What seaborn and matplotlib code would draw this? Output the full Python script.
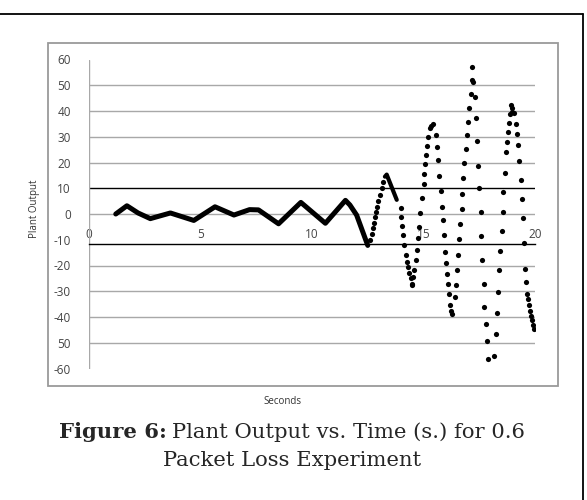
import seaborn as sns
import matplotlib.pyplot as plt
import pandas as pd
from matplotlib.lines import Line2D
from matplotlib.patches import Rectangle

# dense part of the response (drawn as a thick trace)
t_smooth = [1.2, 1.7, 2.2, 2.75, 3.65, 4.7, 5.65, 6.5, 7.2, 7.6, 8.5, 9.5, 10.6, 11.5, 11.7, 12.0, 12.5]
y_smooth = [0.0, 3.2, 0.4, -1.8, 0.4, -2.5, 2.8, -0.4, 1.7, 1.6, -3.8, 4.5, -3.6, 5.3, 3.5, -0.4, -12.2]

t_peak = [13.27, 13.35, 13.8]
y_peak = [14.5, 15.3, 5.5]

# sparse samples after packet loss gets worse
t_dots = [12.6, 12.68, 12.72, 12.78, 12.83, 12.87, 12.93, 12.97, 13.05, 13.12, 13.2,
          13.98, 13.99, 14.05, 14.1, 14.14, 14.2, 14.24, 14.32, 14.36, 14.42, 14.47, 14.5,
          14.54, 14.59, 14.65, 14.7, 14.77, 14.81, 14.86, 14.92, 15.0, 15.04, 15.07, 15.11,
          15.17, 15.22, 15.29, 15.35, 15.44,
          15.56, 15.62, 15.66, 15.71, 15.77, 15.82, 15.86, 15.92, 15.96, 16.0, 16.07, 16.11,
          16.16, 16.19, 16.24, 16.26,
          16.41, 16.46, 16.49, 16.53, 16.61, 16.64, 16.71, 16.74, 16.79, 16.83, 16.89, 16.93,
          17.01, 17.04, 17.11, 17.16, 17.19,
          17.23, 17.31, 17.34, 17.41, 17.43, 17.5, 17.56, 17.58, 17.64, 17.73, 17.73, 17.8,
          17.86, 17.88, 18.18,
          18.25, 18.31, 18.35, 18.4, 18.43, 18.51, 18.55, 18.58, 18.65, 18.7, 18.76, 18.8,
          18.83, 18.88, 18.92, 18.95, 18.98,
          19.06, 19.15, 19.2, 19.25, 19.3, 19.37, 19.41, 19.46, 19.52, 19.57, 19.61, 19.64,
          19.7, 19.73, 19.77, 19.81, 19.86, 19.9, 19.95]
y_dots = [-10.1, -7.8, -5.6, -3.4, -1.3, 0.9, 2.8, 5.2, 7.4, 10.0, 12.6,
          2.2, -1.3, -4.7, -8.2, -12.1, -16.0, -18.6, -20.7, -22.8, -25.0, -27.0, -27.5,
          -24.4, -21.8, -17.9, -14.0, -9.5, -5.2, 0.5, 6.1, 11.7, 15.6, 19.3, 23.0,
          26.5, 29.8, 33.5, 34.3, 34.8,
          30.7, 26.2, 21.0, 14.8, 9.1, 2.8, -2.3, -8.2, -14.7, -19.2, -23.2, -27.3,
          -31.0, -35.4, -37.5, -39.0,
          -32.2, -27.4, -21.8, -16.0, -9.9, -3.9, 1.8, 7.8, 13.9, 19.7, 25.2, 30.5,
          35.9, 41.1, 46.7, 52.1, 56.9,
          51.1, 45.3, 37.2, 28.4, 18.8, 10.0, 0.7, -8.4, -17.9, -27.0, -36.3, -42.8,
          -49.3, -56.2, -55.3,
          -46.7, -38.6, -30.2, -21.8, -14.3, -6.6, 0.9, 8.7, 16.1, 23.9, 28.1, 32.0,
          35.5, 38.9, 42.4, 41.0, 39.5,
          39.2, 35.0, 31.1, 26.8, 20.7, 13.2, 5.7, -1.4, -11.4, -21.4, -26.3, -30.9,
          -33.0, -35.5, -37.5, -39.5, -41.0, -43.0, -44.5]

y_ticks = [60, 50, 40, 30, 20, 10, 0, -10, -20, -30, -40, -50, -60]
y_ticklabels = ['60', '50', '40', '30', '20', '10', '0', '-10', '-20', '-30', '-40', '50', '-60']
x_ticks = [0, 5, 10, 15, 20]

sns.set_style('white')
plt.rcParams['font.family'] = ['Open Sans', 'DejaVu Sans']

fig = plt.figure(figsize=(5.87, 5.0), dpi=100)
ax = fig.add_axes([89 / 587, 1 - 368.5 / 500, 446 / 587, 309 / 500])

# gridlines
for g in [50, 40, 30, 20, 0, -20, -30, -40, -50]:
    ax.axhline(g, color='#a8a8a8', lw=1.0, zorder=1)
ax.axhline(10, color='black', lw=1.0, zorder=1)
ax.axvline(0, color='#a8a8a8', lw=1.0, zorder=1)

smooth = pd.DataFrame({'t': t_smooth, 'y': y_smooth})
peak = pd.DataFrame({'t': t_peak, 'y': y_peak})
dots = pd.DataFrame({'t': t_dots, 'y': y_dots})
sns.lineplot(data=smooth, x='t', y='y', sort=False, color='black', lw=3.6, ax=ax, zorder=3)
sns.lineplot(data=peak, x='t', y='y', sort=False, color='black', lw=3.0, ax=ax, zorder=3)
sns.scatterplot(data=dots, x='t', y='y', color='black', s=14, linewidth=0, ax=ax, zorder=3)

ax.set_xlim(0, 20)
ax.set_ylim(-60, 60)
for s in ['top', 'right', 'left']:
    ax.spines[s].set_visible(False)
ax.spines['bottom'].set_position(('data', -11.5))
ax.spines['bottom'].set_color('black')
ax.spines['bottom'].set_linewidth(1.0)
ax.set_xticks(x_ticks)
ax.set_xticklabels([str(v) for v in x_ticks])
ax.tick_params(axis='x', length=0, pad=-11, labelsize=8.5, labelcolor='#444444')
ax.set_yticks(y_ticks)
ax.set_yticklabels(y_ticklabels)
ax.tick_params(axis='y', length=0, pad=13, labelsize=8.5, labelcolor='#444444')
ax.set_xlabel('')
ax.set_ylabel('')
ax.patch.set_alpha(0)

fig.text(35 / 587, 1 - 209 / 500, 'Plant Output', rotation=90, ha='center', va='center',
         fontsize=7, color='#333333')
fig.text(283 / 587, 1 - 401 / 500, 'Seconds', ha='center', va='center',
         fontsize=7, color='#333333')

# chart area border and page border
fig.patches.append(Rectangle((48 / 587, 1 - 386 / 500), 510 / 587, 343 / 500,
                             transform=fig.transFigure, fill=False, ec='#9a9a9a', lw=1.3))
fig.lines.append(Line2D([0, 583 / 587], [1 - 14 / 500, 1 - 14 / 500],
                        transform=fig.transFigure, color='black', lw=1.3))
fig.lines.append(Line2D([583 / 587, 583 / 587], [0, 1 - 14 / 500],
                        transform=fig.transFigure, color='black', lw=1.3))

# caption: bold label + regular text, sized so the first line spans ~467 px
serif = 'DejaVu Serif'
fs = 14.0
t1 = fig.text(0, 1 - 432 / 500, 'Figure 6:', ha='left', va='center',
              fontsize=fs, family=serif, weight='bold')
t2 = fig.text(0, 1 - 432 / 500, 'Plant Output vs. Time (s.) for 0.6', ha='left',
              va='center', fontsize=fs, family=serif)
r = fig.canvas.get_renderer()
w = t1.get_window_extent(r).width + 5 + t2.get_window_extent(r).width
fs = fs * 467 / w
t1.set_fontsize(fs)
t2.set_fontsize(fs)
w1 = t1.get_window_extent(r).width
w2 = t2.get_window_extent(r).width
x0 = 292 - (w1 + 5 + w2) / 2
t1.set_x(x0 / 587)
t2.set_x((x0 + w1 + 5) / 587)
fig.text(292 / 587, 1 - 461 / 500, 'Packet Loss Experiment', ha='center', va='center',
         fontsize=fs, family=serif)

fig.savefig('out.png', dpi=100, facecolor='white')
